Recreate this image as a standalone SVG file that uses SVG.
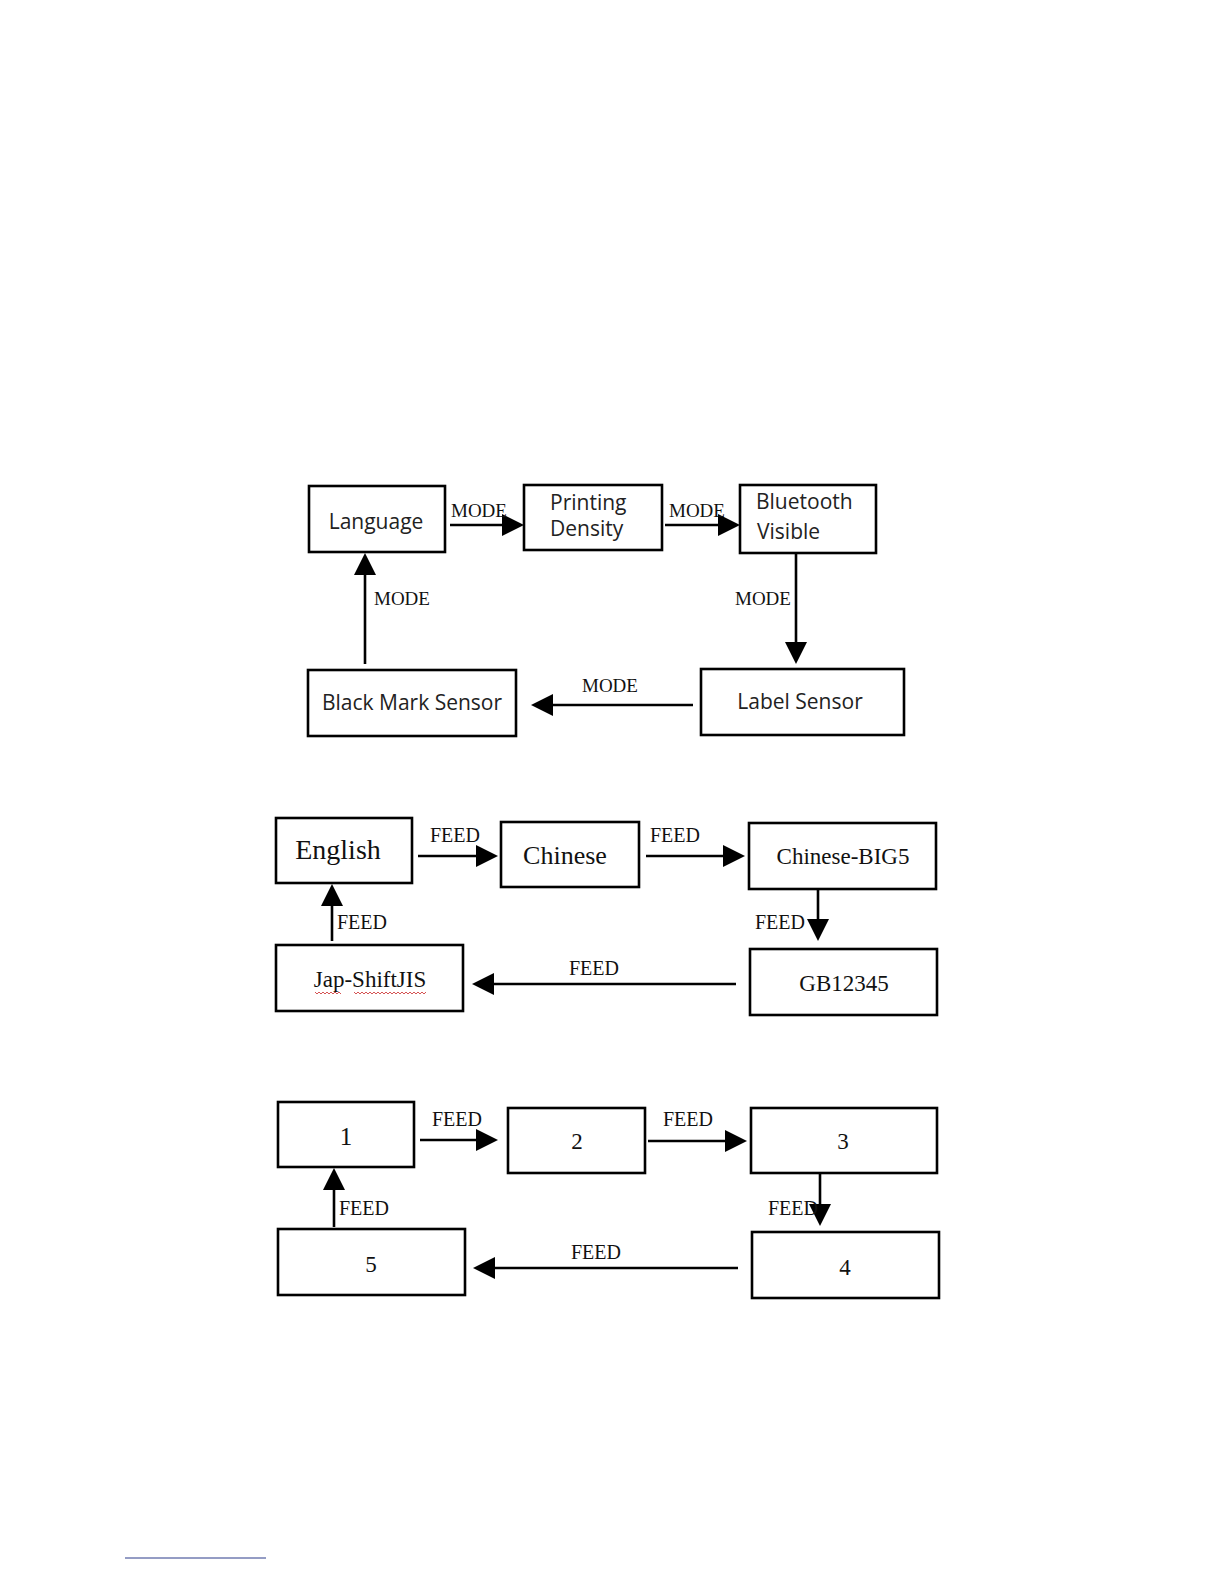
<svg xmlns="http://www.w3.org/2000/svg" width="1224" height="1584" viewBox="0 0 1224 1584">
<defs>
<style>
.box{fill:#fff;stroke:#000;stroke-width:2.6}
.ln{stroke:#000;stroke-width:2.6;fill:none}
.sans{font-family:"Open Sans","Noto Sans",sans-serif;font-size:21px;fill:#222}
.lbl{font-family:"Liberation Serif","Times New Roman",serif;font-size:19px;fill:#111}
.ser{font-family:"Liberation Serif","Times New Roman",serif;fill:#111}
</style>
</defs>
<rect width="1224" height="1584" fill="#fff"/>

<g id="connectors">
<!-- section 1 -->
<line class="ln" x1="450" y1="525" x2="502" y2="525"/>
<path d="M502,514 L524,525 L502,536 Z"/>
<line class="ln" x1="665" y1="525" x2="718" y2="525"/>
<path d="M718,514 L740,525 L718,536 Z"/>
<line class="ln" x1="796" y1="553" x2="796" y2="642"/>
<path d="M785,642 L796,664 L807,642 Z"/>
<line class="ln" x1="693" y1="705" x2="553" y2="705"/>
<path d="M553,694 L531,705 L553,716 Z"/>
<line class="ln" x1="365" y1="664" x2="365" y2="575"/>
<path d="M354,575 L365,553 L376,575 Z"/>
<text class="lbl" x="451" y="517">MODE</text>
<text class="lbl" x="669" y="517">MODE</text>
<text class="lbl" x="735" y="605">MODE</text>
<text class="lbl" x="582" y="692">MODE</text>
<text class="lbl" x="374" y="605">MODE</text>

<!-- section 2 -->
<line class="ln" x1="418" y1="856" x2="476" y2="856"/>
<path d="M476,845 L498,856 L476,867 Z"/>
<line class="ln" x1="646" y1="856" x2="723" y2="856"/>
<path d="M723,845 L745,856 L723,867 Z"/>
<line class="ln" x1="818" y1="889" x2="818" y2="919"/>
<path d="M807,919 L818,941 L829,919 Z"/>
<line class="ln" x1="736" y1="984" x2="494" y2="984"/>
<path d="M494,973 L472,984 L494,995 Z"/>
<line class="ln" x1="332" y1="941" x2="332" y2="906"/>
<path d="M321,906 L332,884 L343,906 Z"/>
<text class="ser" font-size="20" x="430" y="842">FEED</text>
<text class="ser" font-size="20" x="650" y="842">FEED</text>
<text class="ser" font-size="20" x="755" y="929">FEED</text>
<text class="ser" font-size="20" x="569" y="975">FEED</text>
<text class="ser" font-size="20" x="337" y="929">FEED</text>

<!-- section 3 -->
<line class="ln" x1="420" y1="1140" x2="476" y2="1140"/>
<path d="M476,1129 L498,1140 L476,1151 Z"/>
<line class="ln" x1="648" y1="1141" x2="725" y2="1141"/>
<path d="M725,1130 L747,1141 L725,1152 Z"/>
<line class="ln" x1="820" y1="1173" x2="820" y2="1204"/>
<path d="M809,1204 L820,1226 L831,1204 Z"/>
<line class="ln" x1="738" y1="1268" x2="495" y2="1268"/>
<path d="M495,1257 L473,1268 L495,1279 Z"/>
<line class="ln" x1="334" y1="1227" x2="334" y2="1190"/>
<path d="M323,1190 L334,1168 L345,1190 Z"/>
<text class="ser" font-size="20" x="432" y="1126">FEED</text>
<text class="ser" font-size="20" x="663" y="1126">FEED</text>
<text class="ser" font-size="20" x="768" y="1215">FEED</text>
<text class="ser" font-size="20" x="571" y="1259">FEED</text>
<text class="ser" font-size="20" x="339" y="1215">FEED</text>
</g>

<!-- section 1 nodes -->
<g id="language">
<rect class="box" x="309" y="486" width="136" height="66"/>
<text class="sans" x="376" y="529" text-anchor="middle">Language</text>
</g>
<g id="printing-density">
<rect class="box" x="524" y="485" width="138" height="65"/>
<text class="sans" x="550" y="510">Printing</text>
<text class="sans" x="550" y="536">Density</text>
</g>
<g id="bluetooth-visible">
<rect class="box" x="740" y="485" width="136" height="68"/>
<text class="sans" x="756" y="509">Bluetooth</text>
<text class="sans" x="757" y="539">Visible</text>
</g>
<g id="label-sensor">
<rect class="box" x="701" y="669" width="203" height="66"/>
<text class="sans" x="800" y="709" text-anchor="middle">Label Sensor</text>
</g>
<g id="black-mark-sensor">
<rect class="box" x="308" y="670" width="208" height="66"/>
<text class="sans" x="412" y="710" text-anchor="middle">Black Mark Sensor</text>
</g>

<!-- section 2 nodes -->
<g id="english">
<rect class="box" x="276" y="818" width="136" height="65"/>
<text class="ser" font-size="28" x="338" y="859" text-anchor="middle">English</text>
</g>
<g id="chinese">
<rect class="box" x="501" y="822" width="138" height="65"/>
<text class="ser" font-size="26" x="565" y="864" text-anchor="middle">Chinese</text>
</g>
<g id="chinese-big5">
<rect class="box" x="749" y="823" width="187" height="66"/>
<text class="ser" font-size="23" x="843" y="864" text-anchor="middle">Chinese-BIG5</text>
</g>
<g id="gb12345">
<rect class="box" x="750" y="949" width="187" height="66"/>
<text class="ser" font-size="23" x="844" y="991" text-anchor="middle">GB12345</text>
</g>
<g id="jap-shiftjis">
<rect class="box" x="276" y="945" width="187" height="66"/>
<text class="ser" font-size="23" x="370" y="987" text-anchor="middle">Jap-ShiftJIS</text>
<path d="M315,992 l2,2 l2,-2 l2,2 l2,-2 l2,2 l2,-2 l2,2 l2,-2 l2,2 l2,-2 l2,2 l2,-2 l2,2 M354,992 l2,2 l2,-2 l2,2 l2,-2 l2,2 l2,-2 l2,2 l2,-2 l2,2 l2,-2 l2,2 l2,-2 l2,2 l2,-2 l2,2 l2,-2 l2,2 l2,-2 l2,2 l2,-2 l2,2 l2,-2 l2,2 l2,-2 l2,2 l2,-2 l2,2 l2,-2 l2,2 l2,-2 l2,2 l2,-2 l2,2 l2,-2 l2,2 l2,-2" fill="none" stroke="#d04040" stroke-width="0.9"/>
</g>

<!-- section 3 nodes -->
<g id="n1">
<rect class="box" x="278" y="1102" width="136" height="65"/>
<text class="ser" font-size="25" x="346" y="1145" text-anchor="middle">1</text>
</g>
<g id="n2">
<rect class="box" x="508" y="1108" width="137" height="65"/>
<text class="ser" font-size="23" x="577" y="1149" text-anchor="middle">2</text>
</g>
<g id="n3">
<rect class="box" x="751" y="1108" width="186" height="65"/>
<text class="ser" font-size="23" x="843" y="1149" text-anchor="middle">3</text>
</g>
<g id="n4">
<rect class="box" x="752" y="1232" width="187" height="66"/>
<text class="ser" font-size="23" x="845" y="1275" text-anchor="middle">4</text>
</g>
<g id="n5">
<rect class="box" x="278" y="1229" width="187" height="66"/>
<text class="ser" font-size="23" x="371" y="1272" text-anchor="middle">5</text>
</g>

<line x1="125" y1="1558" x2="266" y2="1558" stroke="#2a3a8a" stroke-width="1"/>
</svg>
